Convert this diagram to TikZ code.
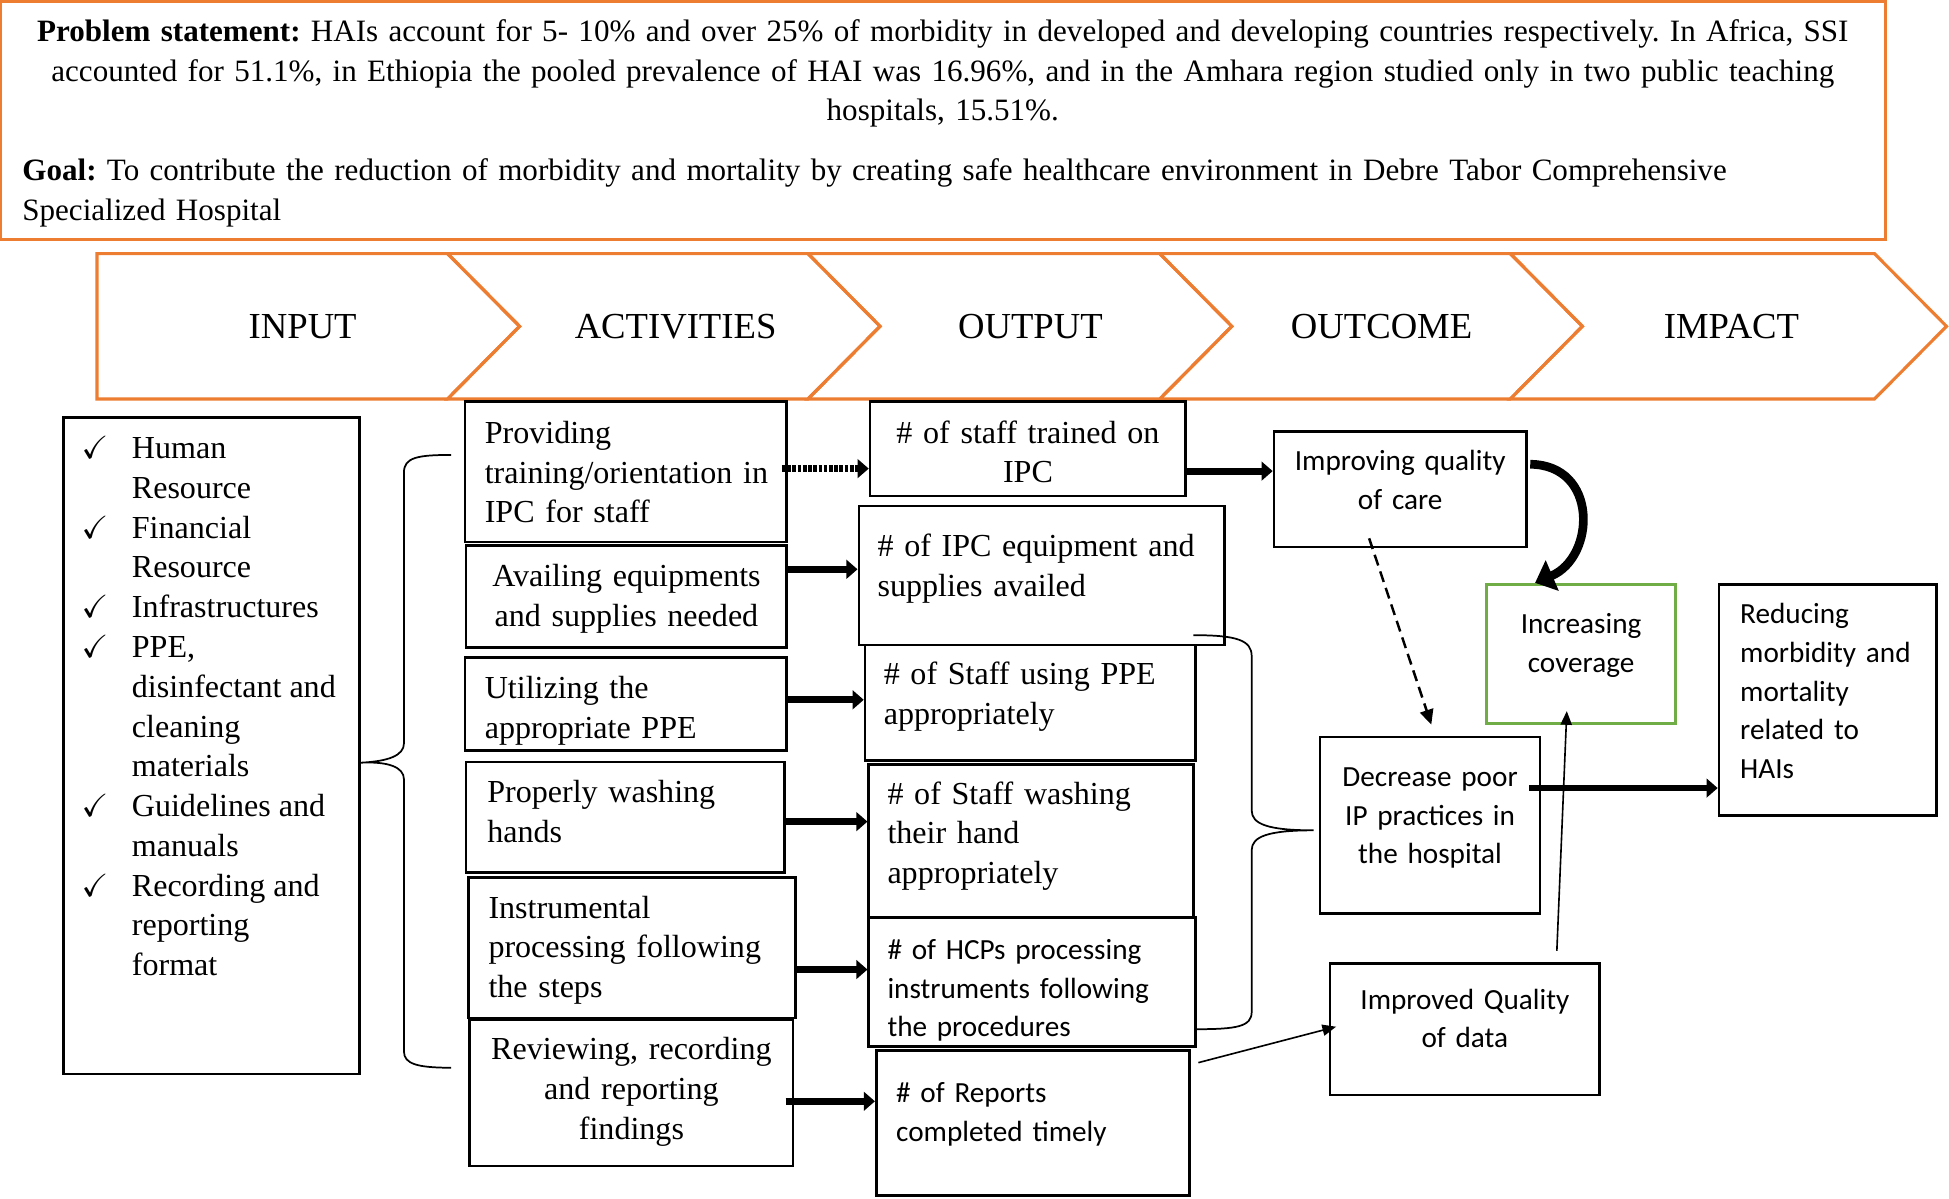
\documentclass[tikz,border=0pt]{standalone}
\usepackage{amssymb}
\usepackage{fontspec}
\setmainfont{Liberation Serif}
\newfontfamily\carlito{Carlito}
\usepackage{tikz}
\usetikzlibrary{arrows.meta,positioning,calc}
\frenchspacing

\definecolor{FrameOrange}{HTML}{ED7D31}
\definecolor{CoverGreen}{HTML}{70AD47}

\newcommand{\bodyfont}{\fontsize{25.8}{32}\selectfont}
\newcommand{\headfont}{\fontsize{25}{32}\selectfont}
\newcommand{\sansbody}{\carlito\fontsize{23.5}{31}\selectfont}
\newcommand{\stagefont}{\fontsize{29.5}{32}\selectfont}
\newcommand{\chk}{\leavevmode\llap{$\checkmark$\hspace{19pt}}}

\tikzset{
  box/.style={draw, line width=2.2pt, inner ysep=0pt, font=\bodyfont},
  sbox/.style={box, font=\sansbody},
  textpad/.style 2 args={execute at begin node={\rule{0pt}{#1}},
                         execute at end node={\rule[-#2]{0pt}{0pt}}},
  chevron/.style={draw=FrameOrange, line width=2.5pt, line join=miter},
  fat arrow/.style={line width=5.5pt, -{Triangle[length=9pt,width=15pt]}},
  dot arrow/.style={fat arrow, dash pattern=on 3pt off 1.2pt},
  thin arrow/.style={line width=1.3pt, -{Triangle[length=11pt,width=9pt]}},
  dash arrow/.style={line width=2pt, dash pattern=on 9pt off 5pt, -{Triangle[length=12pt,width=11pt]}},
  curve arrow/.style={line width=7pt, -{Triangle[length=15pt,width=26pt]}},
  brace line/.style={line width=1.4pt},
}

\begin{document}
\begin{tikzpicture}[x=1pt,y=-1pt]
  \useasboundingbox (0,0) rectangle (1568,964);

  % problem statement and goal
  \node[draw=FrameOrange, line width=2.5pt, text width=1481pt, inner xsep=18pt, inner ysep=0pt,
        minimum height=192pt, align=left, font=\headfont, textpad={24pt}{7.6pt}] (problem) at (758.5,97) {%
    {\centering
     \mbox{\textbf{Problem statement:} HAIs account for 5- 10\% and over 25\% of morbidity in developed and developing countries respectively. In Africa, SSI}\\
     \mbox{accounted for 51.1\%, in Ethiopia the pooled prevalence of HAI was 16.96\%, and in the Amhara region studied only in two public teaching}\\
     \mbox{hospitals, 15.51\%.}\par}
    \vspace{16pt}
    \mbox{\textbf{Goal:} To contribute the reduction of morbidity and mortality by creating safe healthcare environment in Debre Tabor Comprehensive}\\
    \mbox{Specialized Hospital}};

  % stage chevrons
  \draw[chevron] (78,204) -- (360,204) -- (418,262.5) -- (360,321) -- (78,321) -- cycle;
  \foreach \a/\b in {360/650, 650/933, 933/1215, 1215/1508}
    \draw[chevron] (\a,204) -- (\b,204) -- (\b+58,262.5) -- (\b,321) -- (\a,321) -- (\a+58,262.5) -- cycle;
  \foreach \name/\x/\txt in {lblinput/243.5/INPUT, lblact/543.5/ACTIVITIES, lblout/829/OUTPUT,
                             lblcome/1111.5/OUTCOME, lblimpact/1393/IMPACT}
    \node[font=\stagefont] (\name) at (\x,262.5) {\txt};

  % inputs
  \node[box, inner xsep=0pt, anchor=north west] (input) at (50,335) {%
    \parbox[c][528pt][t]{238pt}{\raggedright\leftskip=55pt\parskip=0pt\relax
      \vspace*{15pt}%
      \chk Human\\Resource\\\chk Financial\\Resource\\\chk Infrastructures\\\chk PPE,\\
      disinfectant and\\cleaning\\materials\\\chk Guidelines and\\manuals\\
      \chk Recording and\\reporting\\format}};

  % activities
  \node[box, align=left, text width=227pt, inner xsep=16pt, minimum height=113pt, textpad={24pt}{5.6pt}] (act1) at (503.5,379.5) {Providing\\\mbox{training/orientation in}\\IPC for staff};
  \node[box, align=center, text width=242pt, inner xsep=8pt, minimum height=82pt, textpad={24pt}{8pt}] (act2) at (504,480) {Availing equipments\\and supplies needed};
  \node[box, align=left, text width=227pt, inner xsep=16pt, minimum height=75pt, textpad={30pt}{7pt}] (act3) at (503.5,566.5) {Utilizing the\\appropriate PPE};
  \node[box, align=left, text width=222pt, inner xsep=17pt, minimum height=89pt, textpad={24pt}{15pt}] (act4) at (503,657.5) {Properly washing\\hands};
  \node[box, align=left, text width=231pt, inner xsep=16pt, minimum height=113pt, textpad={24pt}{7.6pt}] (act5) at (508.5,762.5) {Instrumental\\processing following\\the steps};
  \node[box, align=center, text width=244pt, inner xsep=8pt, minimum height=118pt, textpad={24pt}{12.6pt}] (act6) at (508,879) {Reviewing, recording\\and reporting\\findings};

  % outputs
  \node[box, align=center, text width=238pt, inner xsep=8pt, minimum height=76pt, textpad={24pt}{1pt}] (out1) at (827,361) {\# of staff trained on\\IPC};
  \node[box, align=left, text width=264pt, inner xsep=15pt, minimum height=112pt, textpad={24pt}{23pt}] (out2) at (838,463) {\# of IPC equipment and\\supplies availed};
  \node[box, align=left, text width=236pt, inner xsep=15pt, minimum height=93pt, textpad={24pt}{21pt}] (out3) at (829,565.5) {\# of Staff using PPE\\appropriately};
  \node[box, align=left, text width=231pt, inner xsep=15pt, minimum height=123pt, textpad={24pt}{19pt}] (out4) at (829.5,676.5) {\# of Staff washing\\their hand\\appropriately};
  \node[sbox, align=left, text width=233pt, inner xsep=15pt, minimum height=100pt, textpad={34pt}{8pt}] (out5) at (830.5,790) {\# of HCPs processing\\instruments following\\the procedures};
  \node[sbox, align=left, text width=220pt, inner xsep=16pt, minimum height=117pt, textpad={24pt}{26pt}] (out6) at (831,903.5) {\# of Reports\\completed timely};

  % outcomes and impact
  \node[sbox, align=center, text width=187pt, inner xsep=8pt, minimum height=93pt, textpad={24pt}{23pt}] (care) at (1126.5,393.5) {Improving quality\\of care};
  \node[sbox, draw=CoverGreen, align=center, text width=136pt, inner xsep=8pt, minimum height=112pt, textpad={24pt}{25pt}] (coverage) at (1272,526) {Increasing\\coverage};
  \node[sbox, align=center, text width=161pt, inner xsep=8pt, minimum height=142pt, textpad={24pt}{24pt}] (poorip) at (1150.5,664) {Decrease poor\\IP practices in\\the hospital};
  \node[sbox, align=center, text width=201pt, inner xsep=8pt, minimum height=106pt, textpad={24pt}{25pt}] (dataq) at (1178.5,828) {Improved Quality\\of data};
  \node[sbox, align=left, text width=141pt, inner xsep=17pt, minimum height=186pt, textpad={24pt}{22pt}] (impact) at (1470.5,563) {Reducing\\morbidity and\\mortality\\related to\\HAIs};

  % activities to outputs
  \draw[dot arrow] ($(act1.east)+(-5,-2.5)$) -- ($(act1.east -| out1.west)+(0,-2.5)$);
  \draw[fat arrow] ($(act2.east)+(0,-22)$) -- ($(act2.east -| out2.west)+(0,-22)$);
  \draw[fat arrow] ($(act3.east)+(0,-3.5)$) -- ($(act3.east -| out3.west)+(0,-3.5)$);
  \draw[fat arrow] ($(act4.east)+(0,3.5)$) -- ($(act4.east -| out4.west)+(0,3.5)$);
  \draw[fat arrow] ($(act5.east)+(0,17.5)$) -- ($(act5.east -| out5.west)+(0,17.5)$);
  \draw[fat arrow] ($(act6.east)+(-7,7)$) -- ($(act6.east -| out6.west)+(0,7)$);

  % outputs to outcomes
  \draw[fat arrow] ($(out1.east)+(0,18)$) -- ($(out1.east -| care.west)+(0,18)$);
  \draw[dash arrow] ($(care.south)+(-25,-8)$) -- ($(poorip.north)+(1,-9)$);
  \draw[curve arrow] ($(care.east)+(2,-20)$) .. controls (1286,374) and (1284,448) .. ($(coverage.north)+(-37,0)$);
  \draw[thin arrow] ($(dataq.north)+(74,-9)$) -- ($(coverage.south)+(-11.5,-11)$);
  \draw[thin arrow] ($(out6.north east)+(6,11)$) -- ($(dataq.west)+(6,-2)$);
  \draw[fat arrow] ($(poorip.east)+(-10,-30)$) -- ($(poorip.east -| impact.west)+(0,-30)$);

  % braces
  \coordinate (lbtip) at ($(input.east)+(0,13.5)$);
  \draw[brace line] (363,366) .. controls (336,366) and (325,368) .. (325,380) -- (325,598)
    .. controls (325,608) and (312,612.5) .. (lbtip) .. controls (312,612.5) and (325,617) .. (325,627)
    -- (325,846) .. controls (325,856) and (336,859) .. (363,859);
  \coordinate (rbtip) at ($(poorip.west)+(-4,4)$);
  \draw[brace line] (960,511) .. controls (995,511) and (1007,515) .. (1007,528) -- (1007,652)
    .. controls (1007,663) and (1020,668) .. (rbtip) .. controls (1020,668) and (1007,673) .. (1007,684)
    -- (1007,814) .. controls (1007,826) and (995,828) .. (962,828);
\end{tikzpicture}
\end{document}
